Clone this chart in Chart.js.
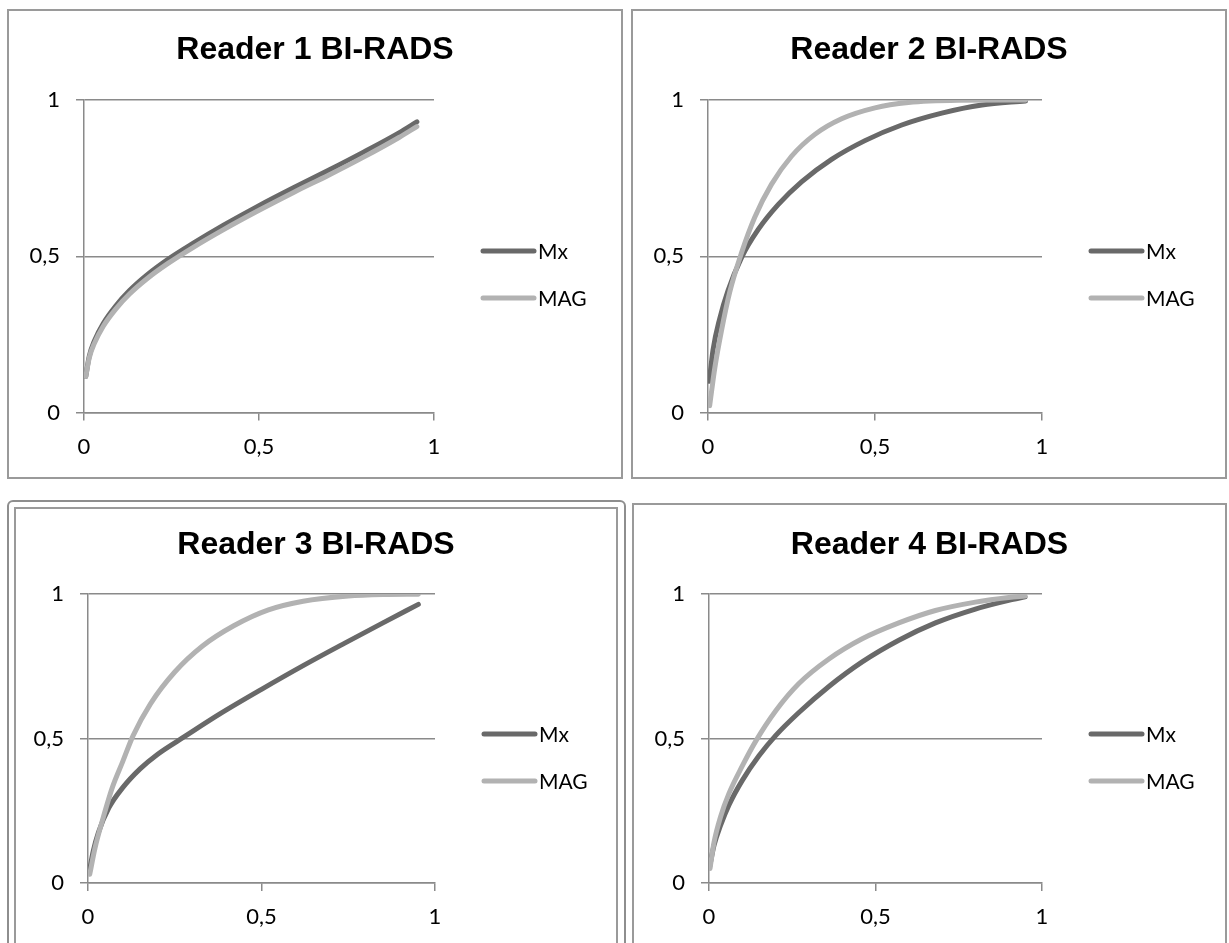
<!DOCTYPE html>
<html>
<head>
<meta charset="utf-8">
<script src="https://cdn.jsdelivr.net/npm/chart.js@4.4.1/dist/chart.umd.min.js"></script>
<style>
  html, body { margin: 0; padding: 0; background: #fff; }
  body { width: 1229px; height: 943px; overflow: hidden; position: relative; }
  .box { position: absolute; box-sizing: border-box; border: 2px solid #9a9a9a; background: #fff; }
  canvas { position: absolute; }
</style>
</head>
<body>
<div class="box" style="left:7px;top:9px;width:616px;height:470px;"></div>
<div class="box" style="left:631px;top:9px;width:596px;height:470px;"></div>
<div class="box" style="left:7px;top:500px;width:619px;height:480px;border-color:#8e8e8e;border-radius:6px;"></div>
<div class="box" style="left:14px;top:507px;width:604px;height:470px;"></div>
<div class="box" style="left:632px;top:503px;width:595px;height:480px;"></div>

<canvas id="c1" width="612" height="466" style="left:9px;top:11px;"></canvas>
<canvas id="c2" width="592" height="466" style="left:633px;top:11px;"></canvas>
<canvas id="c3" width="600" height="440" style="left:16px;top:509px;"></canvas>
<canvas id="c4" width="591" height="440" style="left:634px;top:505px;"></canvas>

<script>
// ---- Data (false positive fraction vs true positive fraction) ----
const seriesNames = ['Mx', 'MAG'];
const titles = ['Reader 1 BI-RADS', 'Reader 2 BI-RADS', 'Reader 3 BI-RADS', 'Reader 4 BI-RADS'];
const tickValues = [0, 0.5, 1];
const tickLabels = ['0', '0,5', '1'];

const reader1MxFpr  = [0.005, 0.015, 0.03, 0.055, 0.09, 0.13, 0.18, 0.24, 0.31, 0.4, 0.5, 0.6, 0.7, 0.8, 0.9, 0.951];
const reader1MxTpr  = [0.115, 0.18, 0.23, 0.285, 0.34, 0.39, 0.44, 0.49, 0.54, 0.6, 0.662, 0.72, 0.776, 0.834, 0.895, 0.93];
const reader1MagFpr = [0.005, 0.015, 0.03, 0.055, 0.09, 0.13, 0.18, 0.24, 0.31, 0.4, 0.5, 0.6, 0.7, 0.8, 0.9, 0.951];
const reader1MagTpr = [0.115, 0.175, 0.222, 0.276, 0.33, 0.379, 0.428, 0.477, 0.527, 0.586, 0.647, 0.705, 0.76, 0.818, 0.88, 0.915];

const reader2MxFpr  = [0.004, 0.015, 0.035, 0.06, 0.1, 0.15, 0.21, 0.28, 0.37, 0.47, 0.58, 0.7, 0.82, 0.951];
const reader2MxTpr  = [0.10, 0.2, 0.3, 0.39, 0.495, 0.585, 0.665, 0.738, 0.81, 0.87, 0.92, 0.958, 0.984, 0.997];
const reader2MagFpr = [0.005, 0.02, 0.04, 0.065, 0.1, 0.14, 0.19, 0.25, 0.32, 0.4, 0.5, 0.6, 0.75, 0.951];
const reader2MagTpr = [0.022, 0.14, 0.26, 0.385, 0.51, 0.625, 0.73, 0.82, 0.89, 0.94, 0.975, 0.992, 0.999, 1.0];

const reader3MxFpr  = [0.003, 0.015, 0.03, 0.06, 0.1, 0.15, 0.2, 0.28, 0.38, 0.5, 0.62, 0.74, 0.85, 0.952];
const reader3MxTpr  = [0.034, 0.11, 0.175, 0.26, 0.33, 0.395, 0.445, 0.508, 0.585, 0.67, 0.752, 0.83, 0.9, 0.964];
const reader3MagFpr = [0.005, 0.02, 0.04, 0.07, 0.1, 0.13, 0.18, 0.25, 0.33, 0.42, 0.52, 0.62, 0.75, 0.85, 0.952];
const reader3MagTpr = [0.03, 0.12, 0.21, 0.33, 0.42, 0.51, 0.62, 0.73, 0.82, 0.89, 0.945, 0.975, 0.993, 0.998, 0.999];

const reader4MxFpr  = [0.002, 0.015, 0.035, 0.06, 0.1, 0.15, 0.2, 0.27, 0.36, 0.46, 0.57, 0.68, 0.8, 0.9, 0.949];
const reader4MxTpr  = [0.056, 0.13, 0.2, 0.27, 0.355, 0.44, 0.51, 0.59, 0.68, 0.765, 0.84, 0.9, 0.948, 0.978, 0.99];
const reader4MagFpr = [0.003, 0.015, 0.035, 0.06, 0.1, 0.14, 0.2, 0.27, 0.36, 0.46, 0.57, 0.68, 0.8, 0.9, 0.949];
const reader4MagTpr = [0.05, 0.14, 0.23, 0.31, 0.405, 0.49, 0.595, 0.69, 0.775, 0.845, 0.9, 0.943, 0.972, 0.988, 0.993];

// ---- Styling ----
const mxColor = '#696969';
const magColor = '#b2b2b2';
const gridColor = '#8a8a8a';
const textFamily = 'Lato, "Open Sans", sans-serif';
const tickFont = { family: textFamily, size: 22, lineHeight: 1.2 };

function pts(xs, ys) { return xs.map((x, i) => ({ x: x, y: ys[i] })); }
function labelFor(v) { const i = tickValues.indexOf(v); return i >= 0 ? tickLabels[i] : ''; }

const sideLegend = {
  id: 'sideLegend',
  afterDraw(chart) {
    const { ctx, chartArea } = chart;
    const cy = (chartArea.top + chartArea.bottom) / 2;
    chart.data.datasets.forEach((ds, i) => {
      const y = Math.round(cy - 5 + i * 47);
      ctx.save();
      ctx.strokeStyle = ds.borderColor;
      ctx.lineWidth = 5;
      ctx.lineCap = 'round';
      ctx.beginPath();
      ctx.moveTo(chartArea.right + 49, y);
      ctx.lineTo(chartArea.right + 100, y);
      ctx.stroke();
      ctx.fillStyle = '#000';
      ctx.font = '21px ' + textFamily;
      ctx.textBaseline = 'middle';
      ctx.textAlign = 'left';
      ctx.fillText(ds.label, chartArea.right + 104, y + 1);
      ctx.restore();
    });
  }
};

function makeChart(id, title, mx, mag, leftW, rightW, padBottom, titlePad) {
  new Chart(document.getElementById(id), {
    type: 'line',
    data: {
      datasets: [
        { label: seriesNames[0], data: mx, borderColor: mxColor, backgroundColor: mxColor, borderWidth: 5,
          pointRadius: 0, cubicInterpolationMode: 'monotone', borderCapStyle: 'round', borderJoinStyle: 'round', order: 1, fill: false },
        { label: seriesNames[1], data: mag, borderColor: magColor, backgroundColor: magColor, borderWidth: 5,
          pointRadius: 0, cubicInterpolationMode: 'monotone', borderCapStyle: 'round', borderJoinStyle: 'round', order: 0, fill: false }
      ]
    },
    options: {
      responsive: false,
      animation: false,
      devicePixelRatio: 1,
      layout: { padding: { left: 0, right: 0, top: 0, bottom: padBottom } },
      plugins: {
        legend: { display: false },
        tooltip: { enabled: false },
        title: {
          display: true, text: title, color: '#000',
          font: { family: '"Liberation Sans", Arial, sans-serif', size: 32, weight: 'bold', lineHeight: '36px' },
          padding: titlePad
        }
      },
      scales: {
        x: {
          type: 'linear', min: 0, max: 1,
          ticks: { stepSize: 0.5, color: '#000', font: tickFont, padding: 13, maxRotation: 0, callback: (v) => labelFor(v) },
          grid: { display: true, drawOnChartArea: false, drawTicks: true, tickLength: 8, color: gridColor, lineWidth: 1.5 },
          border: { display: true, color: gridColor, width: 1.5 },
          afterFit(s) { s.height = 60; }
        },
        y: {
          type: 'linear', min: 0, max: 1,
          ticks: { stepSize: 0.5, color: '#000', font: tickFont, padding: 16, callback: (v) => labelFor(v) },
          grid: { display: true, drawOnChartArea: true, drawTicks: true, tickLength: 8, color: gridColor, lineWidth: 1.5 },
          border: { display: true, color: gridColor, width: 1.5 },
          afterFit(s) { s.width = leftW; }
        },
        legendSpace: {
          type: 'linear', position: 'right', min: 0, max: 1, display: true,
          ticks: { display: false }, grid: { display: false, drawTicks: false }, border: { display: false },
          afterFit(s) { s.width = rightW; }
        }
      }
    },
    plugins: [sideLegend]
  });
}

makeChart('c1', titles[0], pts(reader1MxFpr, reader1MxTpr), pts(reader1MagFpr, reader1MagTpr), 75, 187, 4.5, { top: 21, bottom: 32 });
makeChart('c2', titles[1], pts(reader2MxFpr, reader2MxTpr), pts(reader2MagFpr, reader2MagTpr), 75, 183, 4.5, { top: 21, bottom: 32 });
makeChart('c3', titles[2], pts(reader3MxFpr, reader3MxTpr), pts(reader3MagFpr, reader3MagTpr), 72, 181, 6, { top: 18, bottom: 31 });
makeChart('c4', titles[3], pts(reader4MxFpr, reader4MxTpr), pts(reader4MagFpr, reader4MagTpr), 75, 183, 2, { top: 22, bottom: 31 });
</script>
</body>
</html>
